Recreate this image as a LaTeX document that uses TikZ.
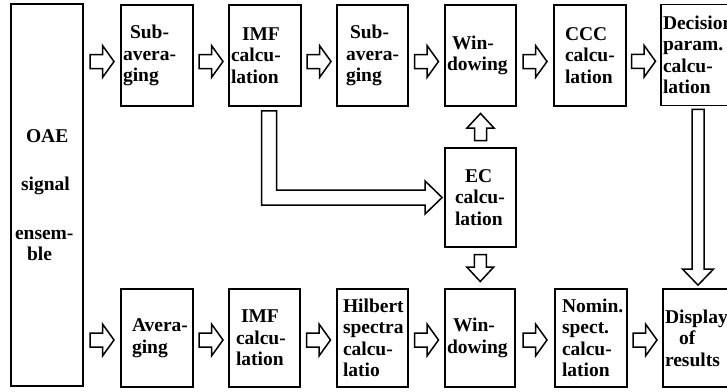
\documentclass[tikz,border=0pt]{standalone}
\usepackage{fontspec}
\setmainfont{Liberation Serif}
\usetikzlibrary{calc}
\begin{document}
\begin{tikzpicture}[x=1pt,y=-1pt,
  box/.style={draw, line width=1.8pt, inner sep=0pt, align=left,
    font=\fontsize{19.5}{21.5}\selectfont\bfseries},
  arrowline/.style={draw, line width=1.5pt, fill=white, line join=miter},
  harrow/.pic={\draw[arrowline] (-12,-7) -- (0.5,-7) -- (0.5,-16) -- (12,0) -- (0.5,16) -- (0.5,7) -- (-12,7) -- cycle;},
  varrow/.pic={\draw[arrowline] (-13.5,-6) -- (-1,-6) -- (-1,-13.5) -- (13.5,0) -- (-1,13.5) -- (-1,6) -- (-13.5,6) -- cycle;}
]
\useasboundingbox (0,0) rectangle (727,391);
\fill[white] (0,0) rectangle (727,391);
\clip (0,0) rectangle (727,391);

% left tall box
\node[box, minimum width=72pt, minimum height=382pt, text width=68pt] (oae) at (47,195)
  {\hspace*{13pt}OAE\\[27pt]\hspace*{8pt}signal\\[27pt]\hspace*{2pt}ensem-\\\hspace*{14pt}ble};

% top row
\node[box, minimum width=72pt, minimum height=101pt, text width=68pt] (sub1) at (157,55.5)
  {\hspace*{7pt}Sub-\\avera-\\ging};
\node[box, minimum width=72pt, minimum height=101pt, text width=68pt] (imf1) at (265,55.5)
  {\hspace*{11pt}IMF\\calcu-\\lation};
\node[box, minimum width=71pt, minimum height=101pt, text width=67pt] (sub2) at (372.5,55.5)
  {\hspace*{11pt}Sub-\\\hspace*{7pt}avera-\\\hspace*{7pt}ging};
\node[box, minimum width=71pt, minimum height=101pt, text width=67pt] (win1) at (480.5,55.5)
  {\hspace*{5pt}Win-\\dowing};
\node[box, minimum width=72pt, minimum height=101pt, text width=68pt] (ccc) at (590,55.5)
  {\hspace*{9pt}CCC\\\hspace*{9pt}calcu-\\\hspace*{9pt}lation};
\node[box, minimum width=72pt, minimum height=101pt, text width=68pt] (dec) at (697,55)
  {Decision\\param.\\calcu-\\lation};

% middle
\node[box, minimum width=71pt, minimum height=99pt, text width=67pt] (ec) at (480.5,197.5)
  {\hspace*{18pt}EC\\\hspace*{8pt}calcu-\\\hspace*{8pt}lation};

% bottom row
\node[box, minimum width=72pt, minimum height=98pt, text width=68pt] (avg) at (157,338)
  {\hspace*{9pt}Avera-\\\hspace*{9pt}ging};
\node[box, minimum width=71pt, minimum height=98pt, text width=67pt] (imf2) at (264.5,338)
  {\hspace*{10pt}IMF\\\hspace*{5pt}calcu-\\\hspace*{5pt}lation};
\node[box, minimum width=71pt, minimum height=98pt, text width=67pt] (hil) at (372.5,338)
  {\hspace*{4pt}Hilbert\\\hspace*{4pt}spectra\\\hspace*{4pt}calcu-\\\hspace*{4pt}latio};
\node[box, minimum width=70pt, minimum height=98pt, text width=66pt] (win2) at (480,338)
  {\hspace*{6pt}Win-\\dowing};
\node[box, minimum width=72pt, minimum height=98pt, text width=68pt] (nom) at (591,338)
  {\hspace*{5pt}Nomin.\\\hspace*{5pt}spect.\\\hspace*{5pt}calcu-\\\hspace*{5pt}lation};
\node[box, minimum width=72pt, minimum height=98pt, text width=68pt] (disp) at (699,338)
  {Display\\\hspace*{14pt}of\\results};

% horizontal block arrows, top row
\pic at ($($(oae.east|-sub1.west)!0.5!(sub1.west)$)+(0,6)$) {harrow};
\pic at ($($(sub1.east)!0.5!(imf1.west)$)+(0,6)$) {harrow};
\pic at ($($(imf1.east)!0.5!(sub2.west)$)+(0,6)$) {harrow};
\pic at ($($(sub2.east)!0.5!(win1.west)$)+(0,6)$) {harrow};
\pic at ($($(win1.east)!0.5!(ccc.west)$)+(0,6)$) {harrow};
\pic at ($($(ccc.east)!0.5!(dec.west)$)+(0,6)$) {harrow};
% bottom row
\pic at ($($(oae.east|-avg.west)!0.5!(avg.west)$)+(0,2)$) {harrow};
\pic at ($($(avg.east)!0.5!(imf2.west)$)+(0,2)$) {harrow};
\pic at ($($(imf2.east)!0.5!(hil.west)$)+(0,2)$) {harrow};
\pic at ($($(hil.east)!0.5!(win2.west)$)+(0,2)$) {harrow};
\pic at ($($(win2.east)!0.5!(nom.west)$)+(0,2)$) {harrow};
\pic at ($($(nom.east)!0.5!(disp.west)$)+(0,2)$) {harrow};
% vertical arrows from EC
\pic[rotate=90] at ($(ec.north)!0.5!(win1.south)$) {varrow};
\pic[rotate=-90] at ($(ec.south)!0.5!(win2.north)$) {varrow};

% L-shaped arrow IMF -> EC
\coordinate (Ltop) at ($(imf1.south)+(4,4)$);
\coordinate (Ltip) at ($(ec.west)+(-2,0)$);
\draw[arrowline] let \p1=(Ltop), \p2=(Ltip) in
  (\x1-7.5pt,\y1) -- (\x1-7.5pt,\y2-7.5pt) -- (\x2-17pt,\y2-7.5pt) -- (\x2-17pt,\y2-16.5pt)
  -- (\x2,\y2) -- (\x2-17pt,\y2+16.5pt) -- (\x2-17pt,\y2+7.5pt) -- (\x1+7.5pt,\y2+7.5pt)
  -- (\x1+7.5pt,\y1) -- cycle;

% long vertical arrow Decision -> Display
\coordinate (Vtop) at ($(dec.south)+(1,3)$);
\coordinate (Vtip) at ($(disp.north)+(-1,-3)$);
\draw[arrowline] let \p1=(Vtop), \p2=(Vtip) in
  (\x1-6pt,\y1) -- (\x1-6pt,\y2+16pt) -- (\x1-15.5pt,\y2+16pt) -- (\x1,\y2)
  -- (\x1+15.5pt,\y2+16pt) -- (\x1+6pt,\y2+16pt) -- (\x1+6pt,\y1) -- cycle;
\end{tikzpicture}
\end{document}
